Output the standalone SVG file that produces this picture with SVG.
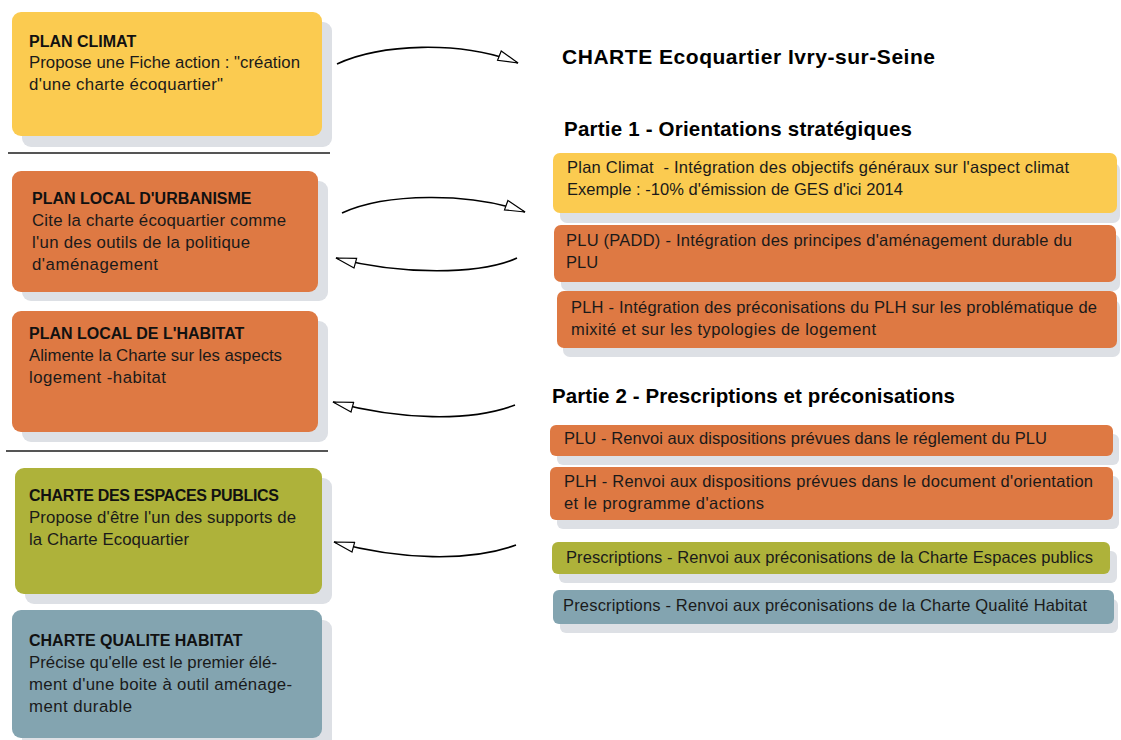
<svg xmlns="http://www.w3.org/2000/svg" width="1121" height="740" viewBox="0 0 1121 740">
<style>
.t{font-family:"Liberation Sans",Arial,sans-serif;font-size:16px;font-weight:bold;fill:#111}
.b{font-family:"Liberation Sans",Arial,sans-serif;font-size:16.8px;fill:#1a1a1a}
.r{font-family:"Liberation Sans",Arial,sans-serif;font-size:16.5px;fill:#1a1a1a}
.h{font-family:"Liberation Sans",Arial,sans-serif;font-weight:bold;fill:#000}
.sh{fill:#dde0e5}
.y{fill:#fbcb50}.o{fill:#de7943}.g{fill:#aeb23a}.bl{fill:#83a4b0}
.sep{stroke:#555;stroke-width:2}
.c{fill:none;stroke:#000;stroke-width:1.6}
</style>
<defs>
<marker id="ar" viewBox="0 0 22 12" refX="21" refY="6" markerWidth="22" markerHeight="12" markerUnits="userSpaceOnUse" orient="auto">
<path d="M1,1 L21,6 L1,11 Z" fill="#fff" stroke="#000" stroke-width="1.2"/>
</marker>
</defs>
<rect width="1121" height="740" fill="#fff"/>

<g id="plan-climat">
<rect class="sh" x="22" y="22" width="310" height="125" rx="9"/>
<rect class="y" x="12" y="12" width="310" height="124" rx="9"/>
<text class="t" x="29" y="47">PLAN CLIMAT</text>
<text class="b" x="29" y="68" textLength="271">Propose une Fiche action : "création</text>
<text class="b" x="29" y="90" textLength="194">d'une charte écoquartier"</text>
</g>
<line class="sep" x1="8" y1="153" x2="330" y2="153"/>
<g id="plu">
<rect class="sh" x="22" y="181" width="306" height="120" rx="9"/>
<rect class="o" x="12" y="171" width="306" height="121" rx="9"/>
<text class="t" x="32" y="204">PLAN LOCAL D'URBANISME</text>
<text class="b" x="32" y="226" textLength="254">Cite la charte écoquartier comme</text>
<text class="b" x="32" y="248" textLength="218">l'un des outils de la politique</text>
<text class="b" x="32" y="270" textLength="126">d'aménagement</text>
</g>
<g id="plh">
<rect class="sh" x="22" y="321" width="306" height="121" rx="9"/>
<rect class="o" x="12" y="311" width="306" height="121" rx="9"/>
<text class="t" x="29" y="339">PLAN LOCAL DE L'HABITAT</text>
<text class="b" x="29" y="361" textLength="253">Alimente la Charte sur les aspects</text>
<text class="b" x="29" y="383" textLength="137">logement -habitat</text>
</g>
<line class="sep" x1="6" y1="451" x2="328" y2="451"/>
<g id="charte-espaces-publics">
<rect class="sh" x="25" y="478" width="307" height="126" rx="9"/>
<rect class="g" x="15" y="468" width="307" height="126" rx="9"/>
<text class="t" x="29" y="501" textLength="250">CHARTE DES ESPACES PUBLICS</text>
<text class="b" x="29" y="523" textLength="267">Propose d'être l'un des supports de</text>
<text class="b" x="29" y="545" textLength="160">la Charte Ecoquartier</text>
</g>
<g id="charte-qualite-habitat">
<rect class="sh" x="22" y="620" width="310" height="128" rx="9"/>
<rect class="bl" x="12" y="610" width="310" height="128" rx="9"/>
<text class="t" x="29" y="646">CHARTE QUALITE HABITAT</text>
<text class="b" x="29" y="668" textLength="248">Précise qu'elle est le premier élé-</text>
<text class="b" x="29" y="690" textLength="263">ment d'une boite à outil aménage-</text>
<text class="b" x="29" y="712" textLength="103">ment durable</text>
</g>

<g id="charte-title">
<text class="h" x="562" y="64" font-size="21" textLength="373">CHARTE Ecoquartier Ivry-sur-Seine</text>
</g>
<g id="partie1">
<text class="h" x="564" y="136" font-size="20.5" textLength="348">Partie 1 - Orientations stratégiques</text>
</g>
<g id="p1-plan-climat">
<rect class="sh" x="560" y="163" width="560" height="60" rx="7"/>
<rect class="y" x="553" y="153" width="564" height="60" rx="7"/>
<text class="r" x="567" y="173" textLength="502" xml:space="preserve">Plan Climat  - Intégration des objectifs généraux sur l'aspect climat</text>
<text class="r" x="567" y="195" textLength="336">Exemple : -10% d'émission de GES d'ici 2014</text>
</g>
<g id="p1-plu">
<rect class="sh" x="561" y="234" width="559" height="57" rx="7"/>
<rect class="o" x="554" y="225" width="562" height="57" rx="7"/>
<text class="r" x="566" y="246" textLength="506">PLU (PADD) - Intégration des principes d'aménagement durable du</text>
<text class="r" x="566" y="268">PLU</text>
</g>
<g id="p1-plh">
<rect class="sh" x="563" y="300" width="557" height="57" rx="7"/>
<rect class="o" x="557" y="291" width="560" height="57" rx="7"/>
<text class="r" x="571" y="313" textLength="526">PLH - Intégration des préconisations du PLH sur les problématique de</text>
<text class="r" x="571" y="335" textLength="305">mixité et sur les typologies de logement</text>
</g>
<g id="partie2">
<text class="h" x="552" y="403" font-size="20.5" textLength="403">Partie 2 - Prescriptions et préconisations</text>
</g>
<g id="p2-plu">
<rect class="sh" x="557" y="434" width="562" height="31" rx="6"/>
<rect class="o" x="550" y="425" width="563" height="31" rx="6"/>
<text class="r" x="564" y="444" textLength="483">PLU - Renvoi aux dispositions prévues dans le réglement du PLU</text>
</g>
<g id="p2-plh">
<rect class="sh" x="557" y="476" width="562" height="53" rx="6"/>
<rect class="o" x="550" y="467" width="563" height="53" rx="6"/>
<text class="r" x="564" y="487" textLength="529">PLH - Renvoi aux dispositions prévues dans le document d'orientation</text>
<text class="r" x="564" y="509" textLength="200">et le programme d'actions</text>
</g>
<g id="p2-espaces-publics">
<rect class="sh" x="559" y="551" width="558" height="32" rx="6"/>
<rect class="g" x="552" y="542" width="558" height="32" rx="6"/>
<text class="r" x="566" y="563" textLength="527">Prescriptions - Renvoi aux préconisations de la Charte Espaces publics</text>
</g>
<g id="p2-qualite-habitat">
<rect class="sh" x="560" y="599" width="558" height="34" rx="6"/>
<rect class="bl" x="553" y="590" width="561" height="34" rx="6"/>
<text class="r" x="563" y="611" textLength="524">Prescriptions - Renvoi aux préconisations de la Charte Qualité Habitat</text>
</g>

<g id="connectors">
<path class="c" d="M337,64 C380,44 460,40 518,63" marker-end="url(#ar)"/>
<path class="c" d="M342,213 C385,193 470,192 525,212" marker-end="url(#ar)"/>
<path class="c" d="M517,258 C480,275 400,275 336,258" marker-end="url(#ar)"/>
<path class="c" d="M515,405 C470,422 400,420 333,402" marker-end="url(#ar)"/>
<path class="c" d="M516,545 C470,562 400,560 334,542" marker-end="url(#ar)"/>
</g>
</svg>
